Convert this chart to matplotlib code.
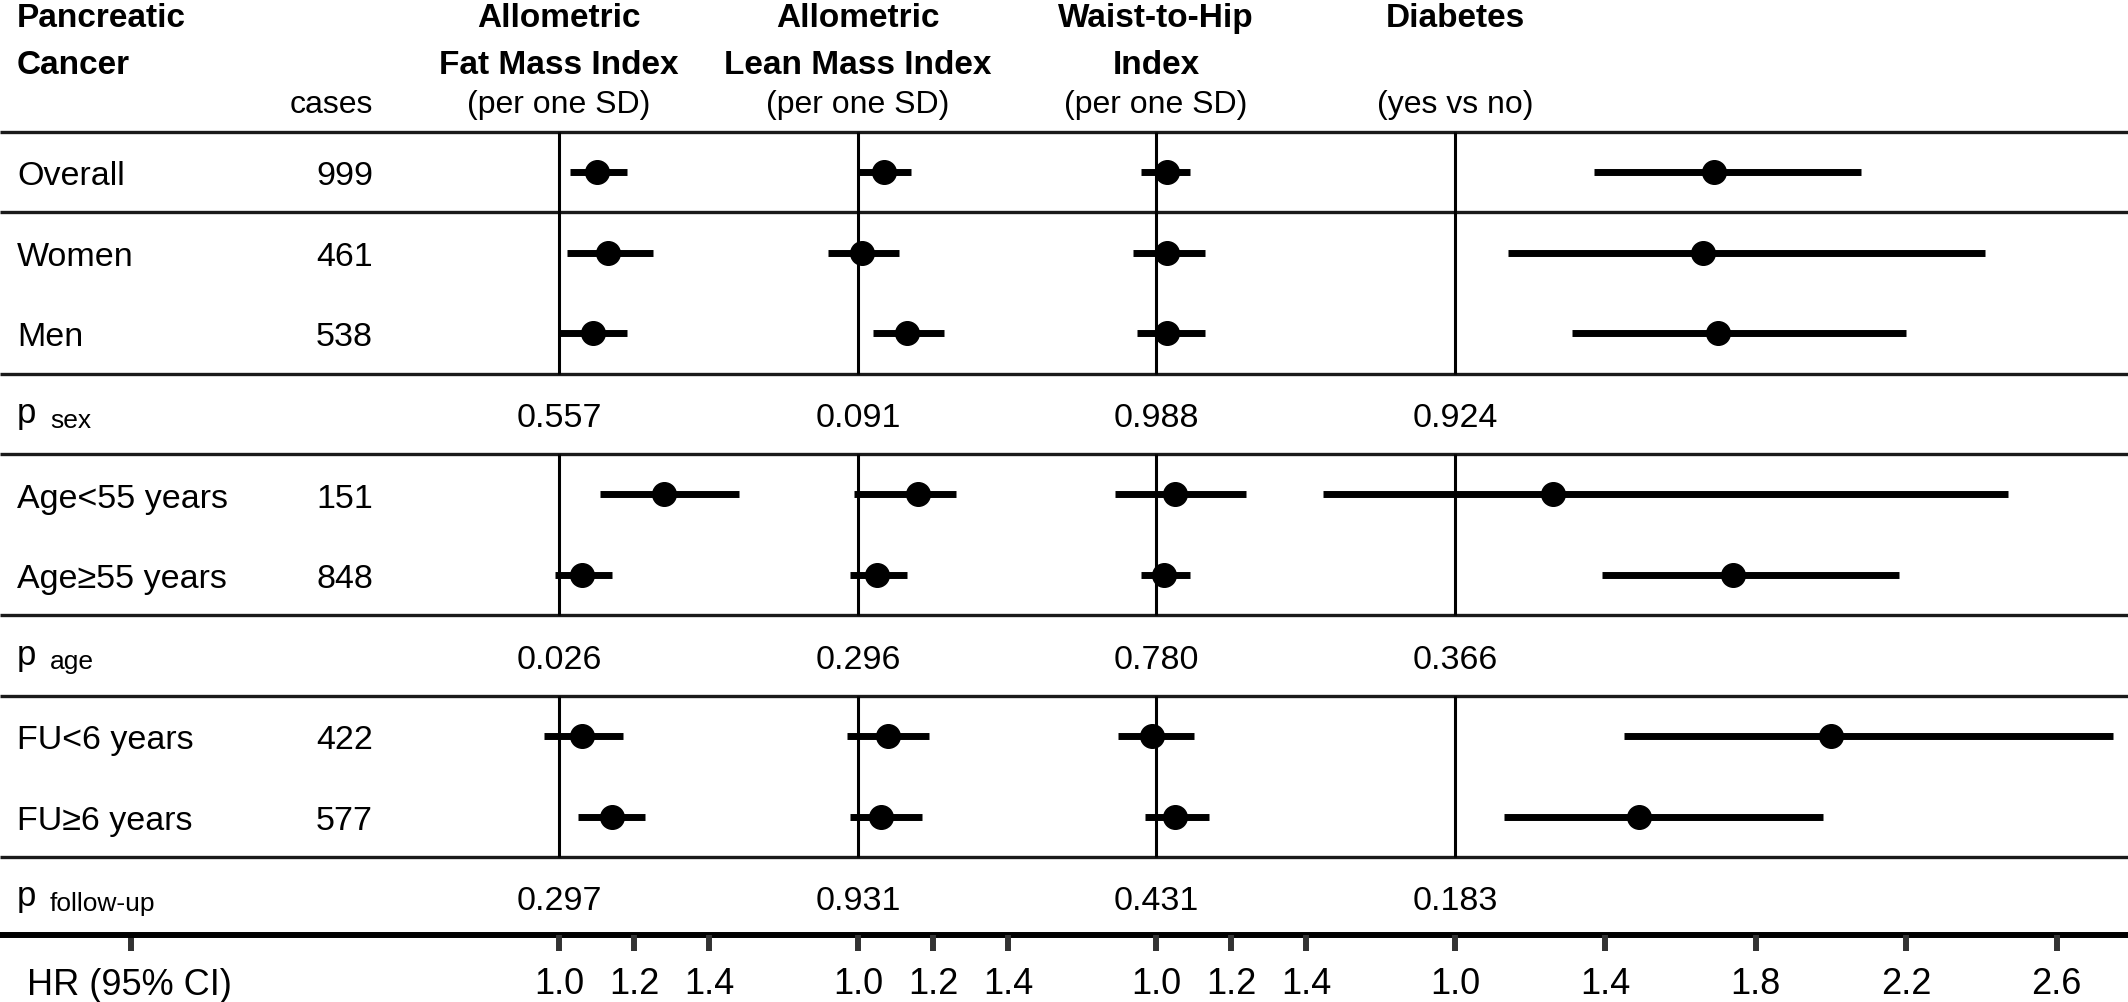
import matplotlib.pyplot as plt

plt.rcParams['font.family'] = ['Liberation Sans', 'DejaVu Sans']

# rows of the table (subgroups)
labels = ['Overall', 'Women', 'Men', 'Age<55 years', 'Age≥55 years', 'FU<6 years', 'FU≥6 years']
cases = [999, 461, 538, 151, 848, 422, 577]
rows = [0, 1, 2, 4, 5, 7, 8]

# heterogeneity p-value rows
p_names = ['sex', 'age', 'follow-up']
p_rows = [3, 6, 9]

# panel headers
titles = [('Allometric', 'Fat Mass Index', '(per one SD)'),
          ('Allometric', 'Lean Mass Index', '(per one SD)'),
          ('Waist-to-Hip', 'Index', '(per one SD)'),
          ('Diabetes', '', '(yes vs no)')]

# hazard ratios and 95% CI
fat_hr = [1.10, 1.13, 1.09, 1.28, 1.06, 1.06, 1.14]
fat_lo = [1.03, 1.02, 1.00, 1.11, 0.99, 0.96, 1.05]
fat_hi = [1.18, 1.25, 1.18, 1.48, 1.14, 1.17, 1.23]
fat_p = ['0.557', '0.026', '0.297']

lean_hr = [1.07, 1.01, 1.13, 1.16, 1.05, 1.08, 1.06]
lean_lo = [1.00, 0.92, 1.04, 0.99, 0.98, 0.97, 0.98]
lean_hi = [1.14, 1.11, 1.23, 1.26, 1.13, 1.19, 1.17]
lean_p = ['0.091', '0.296', '0.931']

whi_hr = [1.03, 1.03, 1.03, 1.05, 1.02, 0.99, 1.05]
whi_lo = [0.96, 0.94, 0.95, 0.89, 0.96, 0.90, 0.97]
whi_hi = [1.09, 1.13, 1.13, 1.24, 1.09, 1.10, 1.14]
whi_p = ['0.988', '0.780', '0.431']

dia_hr = [1.69, 1.66, 1.70, 1.26, 1.74, 2.00, 1.49]
dia_lo = [1.37, 1.14, 1.31, 0.65, 1.39, 1.45, 1.13]
dia_hi = [2.08, 2.41, 2.20, 2.47, 2.18, 2.75, 1.98]
dia_p = ['0.924', '0.366', '0.183']

ticks_sd = [1.0, 1.2, 1.4]
ticks_dia = [1.0, 1.4, 1.8, 2.2, 2.6]

# layout (pixels)
W, H = 2128, 1003
scale = 376            # pixels per HR unit
ref_x = [559, 858, 1156, 1455]
ylim = (10.3, -2.15)
y_axis = 9.47
blocks = [(-0.5, 2.5), (3.5, 5.5), (6.5, 8.5)]
tick_style = dict(length=11.5, width=4.3, color='#333333')

fig = plt.figure(figsize=(W / 100, H / 100), dpi=100)
base = fig.add_axes([0, 0, 1, 1])
base.set_xlim(0, W)
base.set_ylim(*ylim)
for s in base.spines.values():
    s.set_visible(False)
base.spines['bottom'].set_position(('data', y_axis))
base.set_yticks([])
base.set_xticks([131])
base.set_xticklabels([''])
base.tick_params(axis='x', **tick_style)

base.hlines([-0.5, 0.5, 2.5, 3.5, 5.5, 6.5, 8.5], 0, W, color='#1a1a1a', lw=2.4)
base.axhline(y_axis, color='black', lw=4.3, zorder=3)

# left columns
base.text(17, -1.82, 'Pancreatic', fontsize=24, fontweight='bold')
base.text(17, -1.23, 'Cancer', fontsize=24, fontweight='bold')
base.text(373, -0.745, 'cases', fontsize=23, ha='right')
for lab, n, r in zip(labels, cases, rows):
    base.text(17, r + 0.15, lab, fontsize=24.5)
    base.text(373, r + 0.15, str(n), fontsize=24.5, ha='right')
for name, r in zip(p_names, p_rows):
    base.text(17, r + 0.1, 'p', fontsize=25)
    base.text(50, r + 0.16, name, fontsize=19)
base.text(27, 10.2, 'HR (95% CI)', fontsize=26)

panels = [(fat_hr, fat_lo, fat_hi, fat_p, (0.8, 1.6), ticks_sd),
          (lean_hr, lean_lo, lean_hi, lean_p, (0.8, 1.6), ticks_sd),
          (whi_hr, whi_lo, whi_hi, whi_p, (0.8, 1.6), ticks_sd),
          (dia_hr, dia_lo, dia_hi, dia_p, (0.6, 2.78), ticks_dia)]

for (hr, lo, hi, pv, xl, tk), x0, title in zip(panels, ref_x, titles):
    left = (x0 + (xl[0] - 1) * scale) / W
    width = (xl[1] - xl[0]) * scale / W
    ax = fig.add_axes([left, 0, width, 1])
    ax.patch.set_visible(False)
    ax.set_xlim(*xl)
    ax.set_ylim(*ylim)
    for s in ax.spines.values():
        s.set_visible(False)
    ax.spines['bottom'].set_position(('data', y_axis))
    ax.set_yticks([])
    ax.set_xticks(tk)
    ax.set_xticklabels([f'{t:.1f}' for t in tk])
    ax.tick_params(axis='x', labelsize=26, pad=11, **tick_style)

    for y0, y1 in blocks:
        ax.vlines(1.0, y0, y1, color='black', lw=2.2)
    ax.hlines(rows, lo, hi, color='black', lw=5)
    ax.plot(hr, rows, 'o', color='black', ms=17, zorder=4)

    for p, r in zip(pv, p_rows):
        ax.text(1.0, r + 0.15, p, fontsize=24.5, ha='center')

    ax.text(1.0, -1.82, title[0], fontsize=24, fontweight='bold', ha='center')
    ax.text(1.0, -1.23, title[1], fontsize=24, fontweight='bold', ha='center')
    ax.text(1.0, -0.745, title[2], fontsize=23, ha='center')

fig.savefig('out.png', dpi=100)
